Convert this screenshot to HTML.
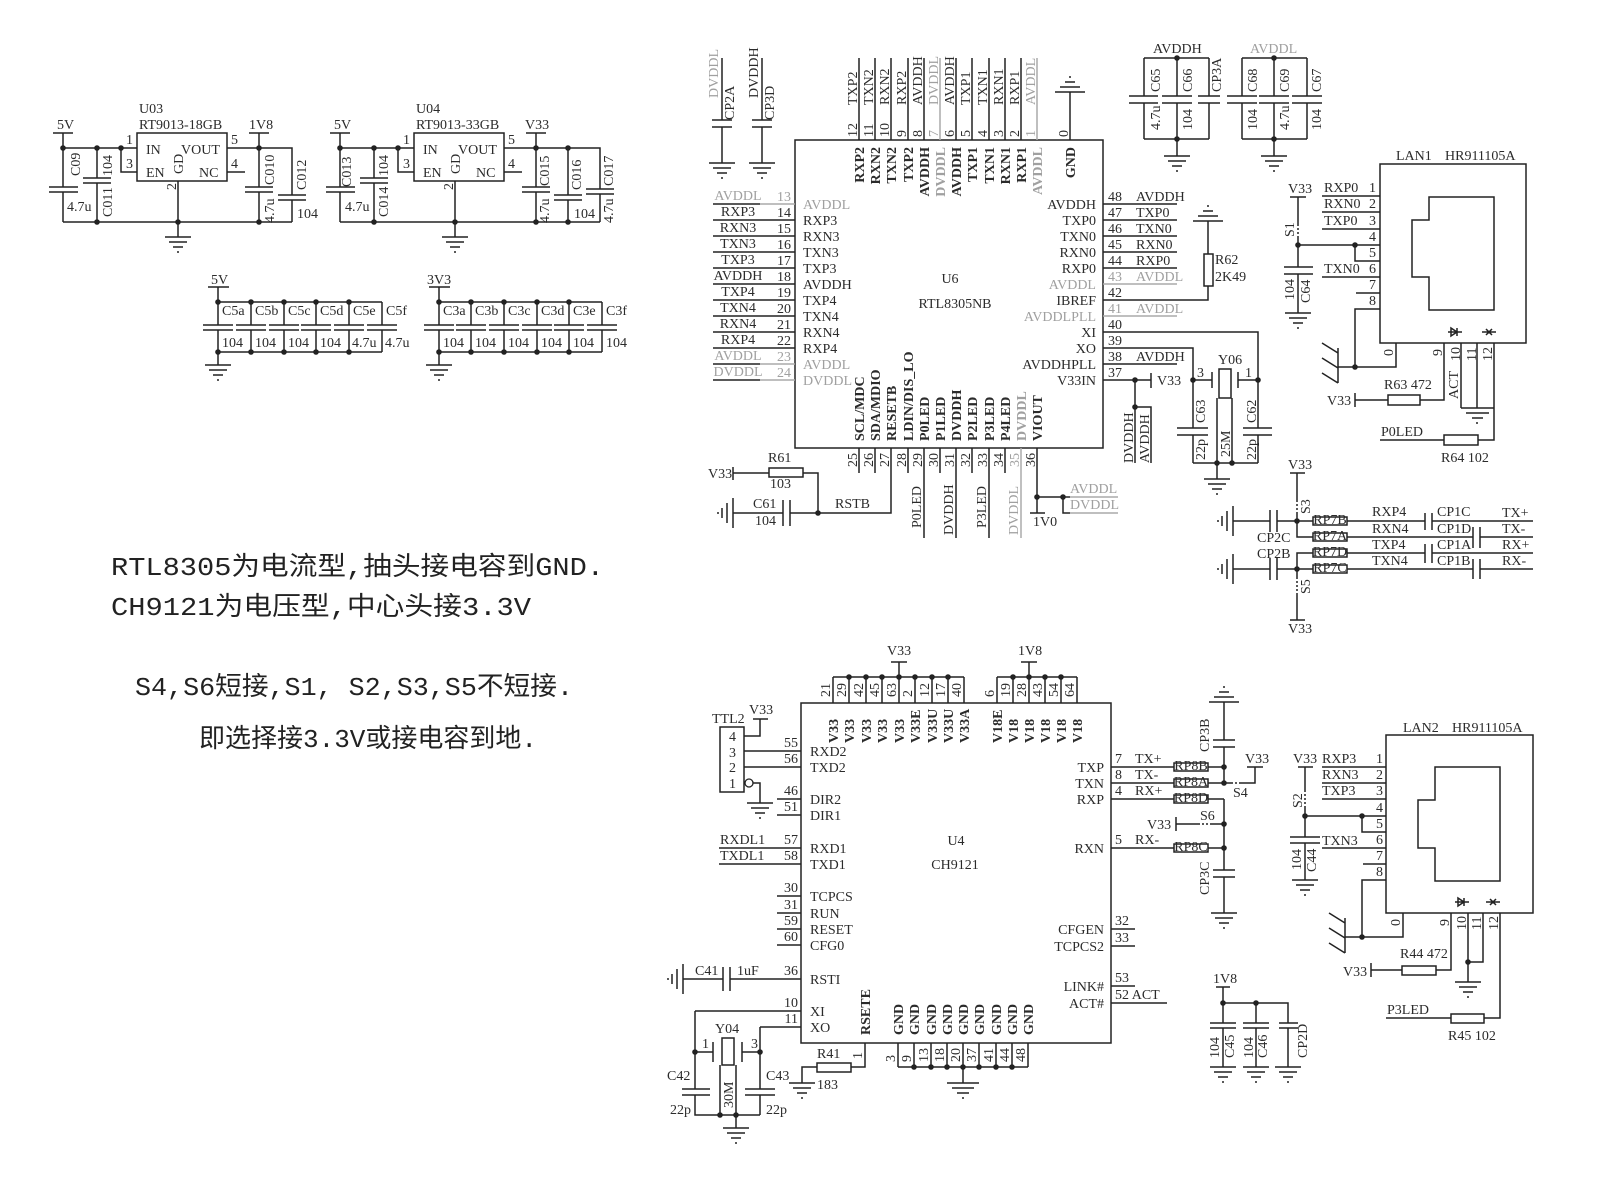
<!DOCTYPE html>
<html><head><meta charset="utf-8"><title>schematic</title>
<style>
html,body{margin:0;padding:0;background:#fff;}
svg{display:block}
.w path,.w rect,.w line{stroke:#222;stroke-width:1.5;fill:none}
.w .gs{stroke:#aaa}
.w .dash{stroke-dasharray:2 2}
text{font-family:"Liberation Serif",serif;font-size:14px;fill:#2b2b2b}
.gt{fill:#a0a0a0}
.cn{font-family:"Liberation Mono","Noto Sans CJK SC",monospace;font-size:26px;fill:#222}
.rp{font-size:10px;fill:#333}
.b{font-weight:bold}
</style></head>
<body>
<svg xmlns="http://www.w3.org/2000/svg" xmlns:xlink="http://www.w3.org/1999/xlink" width="1600" height="1186" viewBox="0 0 1600 1186">
<defs>
<g id="gd"><path d="M-13,0H13M-9,5H9M-5,10H5M-1,15H1" stroke="#222" stroke-width="1.5" fill="none"/></g>
<g id="gu"><path d="M-15,0H15M-10,-5H10M-5,-10H5M-1,-15H1" stroke="#222" stroke-width="1.5" fill="none"/></g>
<g id="gl"><path d="M0,-15V15M-6,-10V10M-11,-5V5M-15,-1V1" stroke="#222" stroke-width="1.5" fill="none"/></g>
</defs>
<rect x="0" y="0" width="1600" height="1186" fill="#fff"/>

<g class="w">
<!-- ================= U03 regulator ================= -->
<path d="M53,133H73M63,133V187M49,187H78M49,192H78M63,192V222"/>
<path d="M63,148H137M121,148V172H137"/>
<path d="M97,148V178M83,178H111M83,183H111M97,183V222"/>
<rect x="137" y="133" width="90" height="48"/>
<path d="M227,148H292V195M278,195H306M278,200H306M292,200V222"/>
<path d="M249,133H269M259,133V187M245,187H273M245,192H273M259,192V222"/>
<path d="M227,172H245M178,181V237M63,222H292"/>
<use xlink:href="#gd" x="178" y="237"/>
<!-- U04 -->
<path d="M330,133H350M340,133V187M326,187H355M326,192H355M340,192V222"/>
<path d="M340,148H414M398,148V172H414"/>
<path d="M374,148V178M360,178H388M360,183H388M374,183V222"/>
<rect x="414" y="133" width="90" height="48"/>
<path d="M504,148H600V189M586,189H614M586,194H614M600,194V222"/>
<path d="M526,133H546M536,133V187M522,187H550M522,192H550M536,192V222"/>
<path d="M568,148V195M554,195H582M554,200H582M568,200V222"/>
<path d="M504,172H522M455,181V237M340,222H600"/>
<use xlink:href="#gd" x="455" y="237"/>

<!-- cap rows -->
<path d="M208,287H229M218,287V302M218,302H382M218,352H382"/>
<path d="M218,302V325M203,325H233M203,330H233M218,330V352"/>
<path d="M251,302V325M236,325H266M236,330H266M251,330V352"/>
<path d="M284,302V325M269,325H299M269,330H299M284,330V352"/>
<path d="M316,302V325M301,325H331M301,330H331M316,330V352"/>
<path d="M349,302V325M334,325H364M334,330H364M349,330V352"/>
<path d="M382,302V325M367,325H397M367,330H397M382,330V352"/>
<path d="M218,352V365"/><use xlink:href="#gd" x="218" y="365"/>
<path d="M429,287H450M439,287V302M439,302H602M439,352H602"/>
<path d="M439,302V325M424,325H454M424,330H454M439,330V352"/>
<path d="M471,302V325M456,325H486M456,330H486M471,330V352"/>
<path d="M504,302V325M489,325H519M489,330H519M504,330V352"/>
<path d="M537,302V325M522,325H552M522,330H552M537,330V352"/>
<path d="M569,302V325M554,325H584M554,330H584M569,330V352"/>
<path d="M602,302V325M587,325H617M587,330H617M602,330V352"/>
<path d="M439,352V365"/><use xlink:href="#gd" x="439" y="365"/>

<!-- ================= U6 RTL8305NB ================= -->
<rect x="795" y="140" width="308" height="308"/>
<path d="M859,58V140M875,58V140M891,58V140M908,58V140M924,58V140M956,58V140M972,58V140M989,58V140M1005,58V140M1021,58V140"/>
<path class="gs" d="M940,58V140M1037,58V140"/>
<path d="M1070,92V140"/><use xlink:href="#gu" x="1070" y="92"/>
<path d="M722,58V120M712,120H732M712,127H732M722,127V163"/><use xlink:href="#gd" x="722" y="163"/>
<path d="M762,58V120M752,120H772M752,127H772M762,127V163"/><use xlink:href="#gd" x="762" y="163"/>
<path d="M713,204H760"/><path class="gs" d="M760,204H795"/>
<path d="M713,220H795M713,236H795M713,252H795M713,268H795M713,284H795M713,300H795M713,316H795M713,332H795M713,348H795"/>
<path d="M713,364H760M713,380H760"/><path class="gs" d="M760,364H795M760,380H795"/>
<path d="M1103,204H1177M1103,220H1177M1103,236H1177M1103,252H1177M1103,268H1177M1103,364H1177"/>
<path class="gs" d="M1103,284H1177M1103,316H1177"/>
<path d="M1103,300H1208V286M1208,254V221"/>
<rect x="1204" y="254" width="9" height="32"/>
<use xlink:href="#gu" x="1208" y="221"/>
<path d="M1103,332H1258V428M1103,348H1193V428"/>
<path d="M1103,380H1151M1151,373V388M1135,380V463M1135,407H1151V463"/>
<path d="M1193,380H1212M1212,372V388M1238,372V388M1238,380H1258"/>
<rect x="1219" y="369" width="12" height="29"/>
<path d="M1217,398V463M1232,398V463"/>
<path d="M1177,428H1208M1177,435H1208M1193,435V463"/>
<path d="M1243,428H1272M1243,435H1272M1258,435V463"/>
<path d="M1193,463H1258M1217,463V479"/><use xlink:href="#gd" x="1217" y="479"/>
<path d="M859,448V473M875,448V473M908,448V473M940,448V473M972,448V473M1005,448V473"/>
<path d="M891,448V513H818M924,448V538M956,448V538M989,448V538"/>
<path class="gs" d="M1021,448V538"/>
<path d="M1037,448V513M1030,513H1045M1037,497H1070M1063,497V513H1070"/>
<path class="gs" d="M1070,497H1118M1070,513H1118"/>
<path d="M733,467V480M733,473H769M803,473H818V513"/>
<rect x="769" y="468" width="34" height="9"/>
<use xlink:href="#gl" x="733" y="513"/>
<path d="M733,513H783M783,500V526M790,500V526M790,513H818"/>

<path d="M1144,58H1209M1144,58V96M1129,96H1158M1129,103H1158M1144,103V139"/>
<path d="M1177,58V96M1162,96H1192M1162,103H1192M1177,103V139"/>
<path d="M1209,58V96M1198,96H1220M1198,103H1220M1209,103V139"/>
<path d="M1144,139H1209M1177,139V156"/><use xlink:href="#gd" x="1177" y="156"/>
<path d="M1242,58H1307M1242,58V96M1227,96H1257M1227,103H1257M1242,103V139"/>
<path d="M1274,58V96M1259,96H1289M1259,103H1289M1274,103V139"/>
<path d="M1307,58V96M1292,96H1322M1292,103H1322M1307,103V139"/>
<path d="M1242,139H1307M1274,139V156"/><use xlink:href="#gd" x="1274" y="156"/>

<!-- LAN1 -->
<rect x="1380" y="164" width="146" height="179"/>
<path d="M1429,197H1494V310H1429V277H1412V220H1429Z"/>
<path d="M1322,196H1380M1322,212H1380M1322,229H1380M1298,245H1380M1355,245V261H1380M1322,277H1380M1356,293H1380"/>
<path d="M1380,309H1355V367H1396V343"/>
<path d="M1338,367H1355M1338,348V383M1338,353L1322,343M1338,368L1322,358M1338,383L1322,373"/>
<path d="M1290,197H1306M1298,197V224M1298,238V245"/><path class="dash" d="M1298,224V238"/>
<path d="M1298,245V267M1284,267H1313M1284,274H1313M1298,274V313"/><use xlink:href="#gd" x="1298" y="313"/>
<path d="M1444,343V400H1420M1388,400H1355M1355,393V407"/>
<rect x="1388" y="395" width="32" height="10"/>
<path d="M1461,343V408M1477,343V408M1461,408H1494M1466,413H1489M1472,418H1483M1476,423H1478"/>
<path d="M1494,343V440H1478M1444,440H1380"/>
<rect x="1444" y="435" width="34" height="10"/>
<path d="M1448,332H1462M1451,328L1457,332L1451,336ZM1457,328V336M1482,332H1496M1486,329L1489,332L1486,335M1492,329L1489,332L1492,335"/>

<!-- RP7 block -->
<path d="M1290,473H1305M1297,473V500M1297,514V521"/><path class="dash" d="M1297,500V514"/>
<use xlink:href="#gl" x="1233" y="521"/>
<path d="M1233,521H1270M1270,510V532M1277,510V532M1277,521H1313"/>
<path d="M1347,521H1425M1425,513V530M1432,513V530M1432,521H1533"/>
<path d="M1297,521V537H1313M1347,537H1473M1473,527V548M1480,527V548M1480,537H1533"/>
<path d="M1297,569V553H1313M1347,553H1425M1425,544V563M1432,544V563M1432,553H1533"/>
<use xlink:href="#gl" x="1233" y="569"/>
<path d="M1233,569H1270M1270,558V580M1277,558V580M1277,569H1313"/>
<path d="M1347,569H1473M1473,559V579M1480,559V579M1480,569H1533"/>
<path d="M1297,569V577M1297,593V620M1290,620H1305"/><path class="dash" d="M1297,577V593"/>
<rect x="1313" y="517" width="34" height="8"/>
<rect x="1313" y="533" width="34" height="8"/>
<rect x="1313" y="549" width="34" height="8"/>
<rect x="1313" y="565" width="34" height="8"/>

<!-- ================= U4 CH9121 ================= -->
<rect x="801" y="703" width="310" height="340"/>
<path d="M833,677H964M833,677V703M849,677V703M866,677V703M882,677V703M899,677V703M915,677V703M932,677V703M948,677V703M964,677V703M899,677V662M891,662H907"/>
<path d="M997,677H1077M997,677V703M1013,677V703M1029,677V703M1045,677V703M1061,677V703M1077,677V703M1029,677V662M1021,662H1037"/>
<rect x="720" y="727" width="24" height="65"/>
<path d="M744,736H760V719M753,719H768M744,751H801M744,767H801M753,783H760V803"/>
<circle cx="749" cy="783" r="4" fill="#fff" stroke="#222" stroke-width="1.3"/>
<use xlink:href="#gd" x="760" y="803"/>
<path d="M777,799H801M777,815H801M719,848H801M719,864H801M777,896H801M777,913H801M777,929H801M777,945H801"/>
<use xlink:href="#gl" x="683" y="979"/>
<path d="M683,979H723M723,967V991M730,967V991M730,979H801"/>
<path d="M695,1011H801M760,1027H801M695,1011V1089M760,1027V1089"/>
<path d="M695,1052H713M713,1042V1062M742,1042V1062M742,1052H760"/>
<rect x="722" y="1038" width="12" height="27"/>
<path d="M720,1065V1115M736,1065V1115"/>
<path d="M682,1089H710M682,1095H710M695,1095V1115H760M745,1089H775M745,1095H775M760,1095V1115"/>
<path d="M736,1115V1128"/><use xlink:href="#gd" x="736" y="1128"/>
<path d="M865,1043V1067H851M817,1067H802V1083"/>
<rect x="817" y="1063" width="34" height="9"/>
<use xlink:href="#gd" x="802" y="1083"/>
<path d="M898,1043V1067M914,1043V1067M931,1043V1067M947,1043V1067M963,1043V1067M979,1043V1067M996,1043V1067M1012,1043V1067M1028,1043V1067M898,1067H1028M963,1067V1083"/>
<path d="M947,1083H979M952,1088H974M957,1093H969M962,1098H964"/>
<path d="M1111,767H1174M1208,767H1224M1111,783H1174M1208,783H1224M1111,799H1174M1208,799H1224M1111,848H1174M1208,848H1224"/>
<rect x="1174" y="763" width="34" height="8"/>
<rect x="1174" y="779" width="34" height="8"/>
<rect x="1174" y="795" width="34" height="8"/>
<rect x="1174" y="844" width="34" height="8"/>
<path d="M1224,702V740M1213,740H1235M1213,747H1235M1224,747V783"/><use xlink:href="#gu" x="1224" y="702"/>
<path d="M1224,783H1231M1240,783H1255V767M1247,767H1263"/><path class="dash" d="M1231,783H1240"/>
<path d="M1224,799V870M1213,870H1235M1213,877H1235M1224,877V913"/><use xlink:href="#gd" x="1224" y="913"/>
<path d="M1176,817V831M1176,824H1198M1212,824H1224"/><path class="dash" d="M1198,824H1212"/>
<path d="M1111,929H1135M1111,946H1135M1111,986H1135M1111,1003H1167"/>

<!-- LAN2 -->
<rect x="1386" y="735" width="147" height="178"/>
<path d="M1435,767H1500V881H1435V848H1418V800H1435Z"/>
<path d="M1322,767H1386M1322,783H1386M1322,799H1386M1305,816H1386M1362,816V832H1386M1322,848H1386M1363,864H1386"/>
<path d="M1386,880H1362V937H1403V913"/>
<path d="M1345,937H1362M1345,918V953M1345,923L1329,913M1345,938L1329,928M1345,953L1329,943"/>
<path d="M1298,767H1313M1305,767V790M1305,806V816"/><path class="dash" d="M1305,790V806"/>
<path d="M1305,816V837M1290,837H1320M1290,843H1320M1305,843V880"/><use xlink:href="#gd" x="1305" y="880"/>
<path d="M1451,913V970H1436M1402,970H1371M1371,963V977"/>
<rect x="1402" y="966" width="34" height="9"/>
<path d="M1468,913V982M1483,913V962H1468"/><use xlink:href="#gd" x="1468" y="982"/>
<path d="M1500,913V1018H1484M1451,1018H1386"/>
<rect x="1451" y="1014" width="33" height="9"/>
<path d="M1455,902H1469M1458,898L1464,902L1458,906ZM1464,898V906M1486,902H1500M1490,899L1493,902L1490,905M1496,899L1493,902L1496,905"/>

<!-- 1V8 caps -->
<path d="M1216,987H1230M1223,987V1023M1223,1003H1288V1023M1256,1003V1023"/>
<path d="M1210,1023H1236M1210,1028H1236M1223,1028V1067"/><use xlink:href="#gd" x="1223" y="1067"/>
<path d="M1243,1023H1269M1243,1028H1269M1256,1028V1067"/><use xlink:href="#gd" x="1256" y="1067"/>
<path d="M1279,1023H1298M1279,1028H1298M1288,1028V1067"/><use xlink:href="#gd" x="1288" y="1067"/>
</g>

<!-- junction dots -->
<g fill="#222">
<circle cx="63" cy="148" r="2.8"/><circle cx="97" cy="148" r="2.8"/><circle cx="121" cy="148" r="2.8"/><circle cx="259" cy="148" r="2.8"/>
<circle cx="97" cy="222" r="2.8"/><circle cx="178" cy="222" r="2.8"/><circle cx="259" cy="222" r="2.8"/>
<circle cx="340" cy="148" r="2.8"/><circle cx="374" cy="148" r="2.8"/><circle cx="398" cy="148" r="2.8"/><circle cx="536" cy="148" r="2.8"/><circle cx="568" cy="148" r="2.8"/>
<circle cx="374" cy="222" r="2.8"/><circle cx="455" cy="222" r="2.8"/><circle cx="536" cy="222" r="2.8"/><circle cx="568" cy="222" r="2.8"/>
<circle cx="218" cy="302" r="2.8"/><circle cx="251" cy="302" r="2.8"/><circle cx="284" cy="302" r="2.8"/><circle cx="316" cy="302" r="2.8"/><circle cx="349" cy="302" r="2.8"/>
<circle cx="218" cy="352" r="2.8"/><circle cx="251" cy="352" r="2.8"/><circle cx="284" cy="352" r="2.8"/><circle cx="316" cy="352" r="2.8"/><circle cx="349" cy="352" r="2.8"/>
<circle cx="439" cy="302" r="2.8"/><circle cx="471" cy="302" r="2.8"/><circle cx="504" cy="302" r="2.8"/><circle cx="537" cy="302" r="2.8"/><circle cx="569" cy="302" r="2.8"/>
<circle cx="439" cy="352" r="2.8"/><circle cx="471" cy="352" r="2.8"/><circle cx="504" cy="352" r="2.8"/><circle cx="537" cy="352" r="2.8"/><circle cx="569" cy="352" r="2.8"/>
<circle cx="1135" cy="380" r="2.8"/><circle cx="1135" cy="407" r="2.8"/><circle cx="1193" cy="380" r="2.8"/><circle cx="1258" cy="380" r="2.8"/>
<circle cx="1217" cy="463" r="2.8"/><circle cx="1232" cy="463" r="2.8"/>
<circle cx="818" cy="513" r="2.8"/><circle cx="1037" cy="497" r="2.8"/><circle cx="1063" cy="497" r="2.8"/>
<circle cx="1177" cy="58" r="2.8"/><circle cx="1177" cy="139" r="2.8"/><circle cx="1274" cy="58" r="2.8"/><circle cx="1274" cy="139" r="2.8"/>
<circle cx="1298" cy="245" r="2.8"/><circle cx="1355" cy="245" r="2.8"/><circle cx="1355" cy="367" r="2.8"/>
<circle cx="1297" cy="521" r="2.8"/><circle cx="1297" cy="569" r="2.8"/>
<circle cx="849" cy="677" r="2.8"/><circle cx="866" cy="677" r="2.8"/><circle cx="882" cy="677" r="2.8"/><circle cx="899" cy="677" r="2.8"/><circle cx="915" cy="677" r="2.8"/><circle cx="932" cy="677" r="2.8"/><circle cx="948" cy="677" r="2.8"/>
<circle cx="1013" cy="677" r="2.8"/><circle cx="1029" cy="677" r="2.8"/><circle cx="1045" cy="677" r="2.8"/><circle cx="1061" cy="677" r="2.8"/>
<circle cx="695" cy="1052" r="2.8"/><circle cx="760" cy="1052" r="2.8"/><circle cx="720" cy="1115" r="2.8"/><circle cx="736" cy="1115" r="2.8"/>
<circle cx="914" cy="1067" r="2.8"/><circle cx="931" cy="1067" r="2.8"/><circle cx="947" cy="1067" r="2.8"/><circle cx="963" cy="1067" r="2.8"/><circle cx="979" cy="1067" r="2.8"/><circle cx="996" cy="1067" r="2.8"/><circle cx="1012" cy="1067" r="2.8"/>
<circle cx="1224" cy="767" r="2.8"/><circle cx="1224" cy="783" r="2.8"/><circle cx="1224" cy="824" r="2.8"/><circle cx="1224" cy="848" r="2.8"/>
<circle cx="1305" cy="816" r="2.8"/><circle cx="1362" cy="816" r="2.8"/><circle cx="1362" cy="937" r="2.8"/><circle cx="1468" cy="962" r="2.8"/>
<circle cx="1223" cy="1003" r="2.8"/><circle cx="1256" cy="1003" r="2.8"/>
</g>

<!-- ================= horizontal text ================= -->
<g>
<text x="57" y="129">5V</text>
<text x="139" y="113">U03</text>
<text x="139" y="129">RT9013-18GB</text>
<text x="249" y="129">1V8</text>
<text x="126" y="144">1</text><text x="126" y="168">3</text><text x="231" y="144">5</text><text x="231" y="168">4</text>
<text x="146" y="154">IN</text><text x="181" y="154">VOUT</text><text x="146" y="177">EN</text><text x="199" y="177">NC</text>
<text x="67" y="211">4.7u</text><text x="297" y="218">104</text>

<text x="334" y="129">5V</text>
<text x="416" y="113">U04</text>
<text x="416" y="129">RT9013-33GB</text>
<text x="525" y="129">V33</text>
<text x="403" y="144">1</text><text x="403" y="168">3</text><text x="508" y="144">5</text><text x="508" y="168">4</text>
<text x="423" y="154">IN</text><text x="458" y="154">VOUT</text><text x="423" y="177">EN</text><text x="476" y="177">NC</text>
<text x="345" y="211">4.7u</text><text x="574" y="218">104</text>

<text x="211" y="284">5V</text>
<text x="222" y="315">C5a</text><text x="255" y="315">C5b</text><text x="288" y="315">C5c</text><text x="320" y="315">C5d</text><text x="353" y="315">C5e</text><text x="386" y="315">C5f</text>
<text x="222" y="347">104</text><text x="255" y="347">104</text><text x="288" y="347">104</text><text x="320" y="347">104</text><text x="352" y="347">4.7u</text><text x="385" y="347">4.7u</text>
<text x="427" y="284">3V3</text>
<text x="443" y="315">C3a</text><text x="475" y="315">C3b</text><text x="508" y="315">C3c</text><text x="541" y="315">C3d</text><text x="573" y="315">C3e</text><text x="606" y="315">C3f</text>
<text x="443" y="347">104</text><text x="475" y="347">104</text><text x="508" y="347">104</text><text x="541" y="347">104</text><text x="573" y="347">104</text><text x="606" y="347">104</text>

<g text-anchor="middle">
<text x="738" y="200" class="gt">AVDDL</text><text x="738" y="216">RXP3</text><text x="738" y="232">RXN3</text><text x="738" y="248">TXN3</text><text x="738" y="264">TXP3</text><text x="738" y="280">AVDDH</text><text x="738" y="296">TXP4</text><text x="738" y="312">TXN4</text><text x="738" y="328">RXN4</text><text x="738" y="344">RXP4</text><text x="738" y="360" class="gt">AVDDL</text><text x="738" y="376" class="gt">DVDDL</text>
</g>
<g text-anchor="end">
<text x="791" y="201" class="gt">13</text><text x="791" y="217">14</text><text x="791" y="233">15</text><text x="791" y="249">16</text><text x="791" y="265">17</text><text x="791" y="281">18</text><text x="791" y="297">19</text><text x="791" y="313">20</text><text x="791" y="329">21</text><text x="791" y="345">22</text><text x="791" y="361" class="gt">23</text><text x="791" y="377" class="gt">24</text>
</g>
<text x="803" y="209" class="gt">AVDDL</text><text x="803" y="225">RXP3</text><text x="803" y="241">RXN3</text><text x="803" y="257">TXN3</text><text x="803" y="273">TXP3</text><text x="803" y="289">AVDDH</text><text x="803" y="305">TXP4</text><text x="803" y="321">TXN4</text><text x="803" y="337">RXN4</text><text x="803" y="353">RXP4</text><text x="803" y="369" class="gt">AVDDL</text><text x="803" y="385" class="gt">DVDDL</text>
<g text-anchor="end">
<text x="1096" y="209">AVDDH</text><text x="1096" y="225">TXP0</text><text x="1096" y="241">TXN0</text><text x="1096" y="257">RXN0</text><text x="1096" y="273">RXP0</text><text x="1096" y="289" class="gt">AVDDL</text><text x="1096" y="305">IBREF</text><text x="1096" y="321" class="gt">AVDDLPLL</text><text x="1096" y="337">XI</text><text x="1096" y="353">XO</text><text x="1096" y="369">AVDDHPLL</text><text x="1096" y="385">V33IN</text>
</g>
<text x="1108" y="201">48</text><text x="1108" y="217">47</text><text x="1108" y="233">46</text><text x="1108" y="249">45</text><text x="1108" y="265">44</text><text x="1108" y="281" class="gt">43</text><text x="1108" y="297">42</text><text x="1108" y="313" class="gt">41</text><text x="1108" y="329">40</text><text x="1108" y="345">39</text><text x="1108" y="361">38</text><text x="1108" y="377">37</text>
<text x="1136" y="201">AVDDH</text><text x="1136" y="217">TXP0</text><text x="1136" y="233">TXN0</text><text x="1136" y="249">RXN0</text><text x="1136" y="265">RXP0</text><text x="1136" y="281" class="gt">AVDDL</text><text x="1136" y="313" class="gt">AVDDL</text><text x="1136" y="361">AVDDH</text>
<text x="950" y="283" text-anchor="middle">U6</text>
<text x="955" y="308" text-anchor="middle">RTL8305NB</text>
<text x="1215" y="264">R62</text><text x="1215" y="281">2K49</text>
<text x="1157" y="385">V33</text>
<text x="1218" y="364">Y06</text>
<text x="1197" y="377">3</text><text x="1245" y="377">1</text>
<text x="708" y="478">V33</text>
<text x="768" y="462">R61</text><text x="770" y="488">103</text>
<text x="753" y="508">C61</text><text x="755" y="525">104</text>
<text x="835" y="508">RSTB</text>
<text x="1033" y="526">1V0</text>
<text x="1070" y="493" class="gt">AVDDL</text><text x="1070" y="509" class="gt">DVDDL</text>
<text x="1153" y="53">AVDDH</text><text x="1250" y="53" class="gt">AVDDL</text>

<text x="1396" y="160">LAN1</text><text x="1445" y="160">HR911105A</text>
<text x="1288" y="193">V33</text>
<text x="1324" y="192">RXP0</text><text x="1324" y="208">RXN0</text><text x="1324" y="225">TXP0</text><text x="1324" y="273">TXN0</text>
<text x="1369" y="192">1</text><text x="1369" y="208">2</text><text x="1369" y="225">3</text><text x="1369" y="241">4</text><text x="1369" y="257">5</text><text x="1369" y="273">6</text><text x="1369" y="289">7</text><text x="1369" y="305">8</text>
<text x="1327" y="405">V33</text><text x="1384" y="389">R63 472</text>
<text x="1381" y="436">P0LED</text><text x="1441" y="462">R64 102</text>

<text x="1288" y="469">V33</text><text x="1288" y="633">V33</text>
<text x="1257" y="542">CP2C</text><text x="1257" y="558">CP2B</text>
<text x="1372" y="516">RXP4</text><text x="1372" y="533">RXN4</text><text x="1372" y="549">TXP4</text><text x="1372" y="565">TXN4</text>
<text x="1437" y="516">CP1C</text><text x="1437" y="533">CP1D</text><text x="1437" y="549">CP1A</text><text x="1437" y="565">CP1B</text>
<text x="1502" y="517">TX+</text><text x="1502" y="533">TX-</text><text x="1502" y="549">RX+</text><text x="1502" y="565">RX-</text>
<g class="rp" text-anchor="middle">
<text x="1330" y="524">RP7B</text><text x="1330" y="540">RP7A</text><text x="1330" y="556">RP7D</text><text x="1330" y="572">RP7C</text>
<text x="1191" y="770">RP8B</text><text x="1191" y="786">RP8A</text><text x="1191" y="802">RP8D</text><text x="1191" y="851">RP8C</text>
</g>

<text x="887" y="655">V33</text><text x="1018" y="655">1V8</text>
<text x="712" y="723">TTL2</text><text x="749" y="714">V33</text>
<text x="729" y="741">4</text><text x="729" y="757">3</text><text x="729" y="772">2</text><text x="729" y="788">1</text>
<g text-anchor="end">
<text x="798" y="747">55</text><text x="798" y="763">56</text><text x="798" y="795">46</text><text x="798" y="811">51</text><text x="798" y="844">57</text><text x="798" y="860">58</text><text x="798" y="892">30</text><text x="798" y="909">31</text><text x="798" y="925">59</text><text x="798" y="941">60</text><text x="798" y="975">36</text><text x="798" y="1007">10</text><text x="798" y="1023">11</text>
</g>
<text x="720" y="844">RXDL1</text><text x="720" y="860">TXDL1</text>
<text x="810" y="756">RXD2</text><text x="810" y="772">TXD2</text><text x="810" y="804">DIR2</text><text x="810" y="820">DIR1</text><text x="810" y="853">RXD1</text><text x="810" y="869">TXD1</text><text x="810" y="901">TCPCS</text><text x="810" y="918">RUN</text><text x="810" y="934">RESET</text><text x="810" y="950">CFG0</text><text x="810" y="984">RSTI</text><text x="810" y="1016">XI</text><text x="810" y="1032">XO</text>
<text x="695" y="975">C41</text><text x="737" y="975">1uF</text>
<text x="715" y="1033">Y04</text><text x="702" y="1048">1</text><text x="751" y="1048">3</text>
<text x="667" y="1080">C42</text><text x="670" y="1114">22p</text><text x="766" y="1080">C43</text><text x="766" y="1114">22p</text>
<text x="817" y="1058">R41</text><text x="817" y="1089">183</text>
<text x="956" y="845" text-anchor="middle">U4</text>
<text x="955" y="869" text-anchor="middle">CH9121</text>
<g text-anchor="end">
<text x="1104" y="772">TXP</text><text x="1104" y="788">TXN</text><text x="1104" y="804">RXP</text><text x="1104" y="853">RXN</text><text x="1104" y="934">CFGEN</text><text x="1104" y="951">TCPCS2</text><text x="1104" y="991">LINK#</text><text x="1104" y="1008">ACT#</text>
</g>
<text x="1115" y="763">7</text><text x="1135" y="763">TX+</text>
<text x="1115" y="779">8</text><text x="1135" y="779">TX-</text>
<text x="1115" y="795">4</text><text x="1135" y="795">RX+</text>
<text x="1115" y="844">5</text><text x="1135" y="844">RX-</text>
<text x="1115" y="925">32</text><text x="1115" y="942">33</text><text x="1115" y="982">53</text><text x="1115" y="999">52 ACT</text>
<text x="1245" y="763">V33</text><text x="1233" y="797">S4</text>
<text x="1147" y="829">V33</text><text x="1200" y="820">S6</text>

<text x="1403" y="732">LAN2</text><text x="1452" y="732">HR911105A</text>
<text x="1293" y="763">V33</text>
<text x="1322" y="763">RXP3</text><text x="1322" y="779">RXN3</text><text x="1322" y="795">TXP3</text><text x="1322" y="845">TXN3</text>
<text x="1376" y="763">1</text><text x="1376" y="779">2</text><text x="1376" y="795">3</text><text x="1376" y="812">4</text><text x="1376" y="828">5</text><text x="1376" y="844">6</text><text x="1376" y="860">7</text><text x="1376" y="876">8</text>
<text x="1343" y="976">V33</text><text x="1400" y="958">R44 472</text>
<text x="1387" y="1014">P3LED</text><text x="1448" y="1040">R45 102</text>
<text x="1213" y="983">1V8</text>
</g>

<!-- ================= rotated text ================= -->
<g transform="rotate(-90)">
<text x="-190" y="176">2</text><text x="-174" y="183">GD</text>
<text x="-176" y="80">C09</text><text x="-176" y="112">104</text><text x="-217" y="112">C011</text>
<text x="-185" y="274">C010</text><text x="-223" y="274">4.7u</text><text x="-190" y="306">C012</text>
<text x="-190" y="453">2</text><text x="-174" y="460">GD</text>
<text x="-187" y="351">C013</text><text x="-176" y="388">104</text><text x="-217" y="388">C014</text>
<text x="-186" y="549">C015</text><text x="-223" y="549">4.7u</text><text x="-190" y="581">C016</text><text x="-186" y="613">C017</text><text x="-223" y="613">4.7u</text>

<text x="-98" y="718" class="gt">DVDDL</text><text x="-120" y="734">CP2A</text>
<text x="-98" y="758">DVDDH</text><text x="-120" y="774">CP3D</text>

<text x="-105" y="857">TXP2</text><text x="-105" y="873">TXN2</text><text x="-105" y="889">RXN2</text><text x="-105" y="906">RXP2</text><text x="-105" y="922">AVDDH</text><text x="-105" y="938" class="gt">DVDDL</text><text x="-105" y="954">AVDDH</text><text x="-105" y="970">TXP1</text><text x="-105" y="987">TXN1</text><text x="-105" y="1003">RXN1</text><text x="-105" y="1019">RXP1</text><text x="-105" y="1035" class="gt">AVDDL</text>
<text x="-137" y="857">12</text><text x="-137" y="873">11</text><text x="-137" y="889">10</text><text x="-137" y="906">9</text><text x="-137" y="922">8</text><text x="-137" y="938" class="gt">7</text><text x="-137" y="954">6</text><text x="-137" y="970">5</text><text x="-137" y="987">4</text><text x="-137" y="1003">3</text><text x="-137" y="1019">2</text><text x="-137" y="1035" class="gt">1</text>
<text x="-137" y="1068">0</text>
<g text-anchor="end" class="b">
<text x="-147" y="864">RXP2</text><text x="-147" y="880">RXN2</text><text x="-147" y="896">TXN2</text><text x="-147" y="913">TXP2</text><text x="-147" y="929">AVDDH</text><text x="-147" y="945" class="gt">DVDDL</text><text x="-147" y="961">AVDDH</text><text x="-147" y="977">TXP1</text><text x="-147" y="994">TXN1</text><text x="-147" y="1010">RXN1</text><text x="-147" y="1026">RXP1</text><text x="-147" y="1042" class="gt">AVDDL</text>
<text x="-147" y="1075">GND</text>
</g>
<text x="-467" y="857">25</text><text x="-467" y="873">26</text><text x="-467" y="889">27</text><text x="-467" y="906">28</text><text x="-467" y="922">29</text><text x="-467" y="938">30</text><text x="-467" y="954">31</text><text x="-467" y="970">32</text><text x="-467" y="987">33</text><text x="-467" y="1003">34</text><text x="-467" y="1019" class="gt">35</text><text x="-467" y="1035">36</text>
<g class="b">
<text x="-441" y="864">SCL/MDC</text><text x="-441" y="880">SDA/MDIO</text><text x="-441" y="896">RESETB</text><text x="-441" y="913">LDIN/DIS_LO</text><text x="-441" y="929">P0LED</text><text x="-441" y="945">P1LED</text><text x="-441" y="961">DVDDH</text><text x="-441" y="977">P2LED</text><text x="-441" y="994">P3LED</text><text x="-441" y="1010">P4LED</text><text x="-441" y="1026" class="gt">DVDDL</text><text x="-441" y="1042">VIOUT</text>
</g>
<text x="-528" y="921">P0LED</text><text x="-535" y="953">DVDDH</text><text x="-528" y="986">P3LED</text><text x="-535" y="1018" class="gt">DVDDL</text>
<text x="-463" y="1133">DVDDH</text><text x="-463" y="1149">AVDDH</text>
<text x="-423" y="1205">C63</text><text x="-460" y="1205">22p</text>
<text x="-423" y="1256">C62</text><text x="-460" y="1256">22p</text>
<text x="-457" y="1230">25M</text>
<text x="-92" y="1160">C65</text><text x="-130" y="1160">4.7u</text>
<text x="-92" y="1192">C66</text><text x="-130" y="1192">104</text>
<text x="-92" y="1221">CP3A</text>
<text x="-92" y="1257">C68</text><text x="-130" y="1257">104</text>
<text x="-92" y="1289">C69</text><text x="-130" y="1289">4.7u</text>
<text x="-92" y="1321">C67</text><text x="-130" y="1321">104</text>
<text x="-237" y="1294">S1</text>
<text x="-300" y="1294">104</text><text x="-303" y="1310">C64</text>
<text x="-356" y="1393">0</text><text x="-356" y="1442">9</text><text x="-361" y="1460">10</text><text x="-361" y="1476">11</text><text x="-361" y="1492">12</text>
<text x="-399" y="1458">ACT</text>
<text x="-514" y="1310">S3</text><text x="-594" y="1310">S5</text>
<text x="-697" y="830">21</text><text x="-697" y="846">29</text><text x="-697" y="863">42</text><text x="-697" y="879">45</text><text x="-697" y="896">63</text><text x="-697" y="912">2</text><text x="-697" y="929">12</text><text x="-697" y="945">17</text><text x="-697" y="961">40</text>
<text x="-697" y="994">6</text><text x="-697" y="1010">19</text><text x="-697" y="1026">28</text><text x="-697" y="1042">43</text><text x="-697" y="1058">54</text><text x="-697" y="1074">64</text>
<g class="b">
<text x="-743" y="838">V33</text><text x="-743" y="854">V33</text><text x="-743" y="871">V33</text><text x="-743" y="887">V33</text><text x="-743" y="904">V33</text><text x="-743" y="920">V33E</text><text x="-743" y="937">V33U</text><text x="-743" y="953">V33U</text><text x="-743" y="969">V33A</text>
<text x="-743" y="1002">V18E</text><text x="-743" y="1018">V18</text><text x="-743" y="1034">V18</text><text x="-743" y="1050">V18</text><text x="-743" y="1066">V18</text><text x="-743" y="1082">V18</text>
<text x="-1035" y="870">RSETE</text>
<text x="-1035" y="903">GND</text><text x="-1035" y="919">GND</text><text x="-1035" y="936">GND</text><text x="-1035" y="952">GND</text><text x="-1035" y="968">GND</text><text x="-1035" y="984">GND</text><text x="-1035" y="1001">GND</text><text x="-1035" y="1017">GND</text><text x="-1035" y="1033">GND</text>
</g>
<text x="-1062" y="895">3</text><text x="-1062" y="911">9</text><text x="-1062" y="928">13</text><text x="-1062" y="944">18</text><text x="-1062" y="960">20</text><text x="-1062" y="976">37</text><text x="-1062" y="993">41</text><text x="-1062" y="1009">44</text><text x="-1062" y="1025">48</text>
<text x="-1059" y="862">1</text>
<text x="-1108" y="733">30M</text>
<text x="-752" y="1209">CP3B</text><text x="-895" y="1209">CP3C</text>
<text x="-808" y="1302">S2</text>
<text x="-870" y="1301">104</text><text x="-872" y="1316">C44</text>
<text x="-926" y="1400">0</text><text x="-926" y="1449">9</text><text x="-930" y="1466">10</text><text x="-930" y="1481">11</text><text x="-930" y="1498">12</text>
<text x="-1058" y="1219">104</text><text x="-1058" y="1234">C45</text>
<text x="-1058" y="1253">104</text><text x="-1058" y="1267">C46</text>
<text x="-1058" y="1307">CP2D</text>
</g>

<!-- ================= Chinese notes ================= -->
<text class="cn" x="111" y="575" textLength="493" lengthAdjust="spacingAndGlyphs">RTL8305为电流型,抽头接电容到GND.</text>
<text class="cn" x="111" y="615" textLength="420" lengthAdjust="spacingAndGlyphs">CH9121为电压型,中心头接3.3V</text>
<text class="cn" x="135" y="695" textLength="438" lengthAdjust="spacingAndGlyphs">S4,S6短接,S1, S2,S3,S5不短接.</text>
<text class="cn" x="199" y="747" textLength="338" lengthAdjust="spacingAndGlyphs">即选择接3.3V或接电容到地.</text>
</svg>
</body></html>
